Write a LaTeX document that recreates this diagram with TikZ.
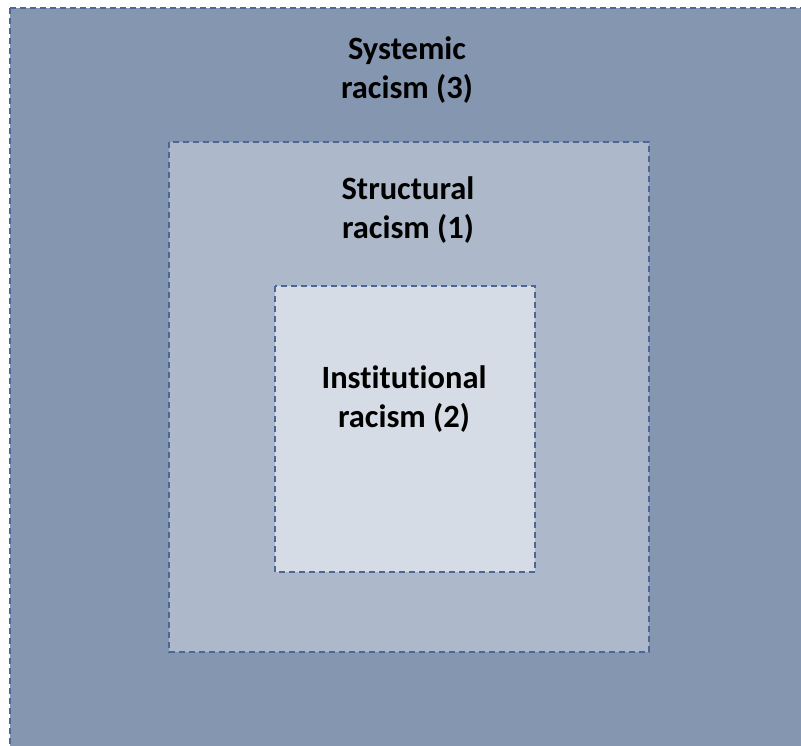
\documentclass[tikz,border=0pt]{standalone}
\usepackage{fontspec}
\setmainfont[Ligatures=NoCommon]{Carlito}
\definecolor{outerfill}{HTML}{8496B0}
\definecolor{midfill}{HTML}{ADB9CA}
\definecolor{innerfill}{HTML}{D6DCE5}
\definecolor{edgeblue}{HTML}{4C6696}
\tikzset{
  layerbox/.style={draw=edgeblue, line width=1.3pt, dash pattern=on 6pt off 4pt},
  layerlabel/.style={font=\fontsize{32.5}{39}\selectfont\bfseries, align=center, inner sep=0pt, text=black}
}
\begin{document}
\begin{tikzpicture}[x=1pt,y=-1pt]
\useasboundingbox (0,0) rectangle (801,746);
\clip (0,0) rectangle (801,746);
\fill[white] (0,0) rectangle (801,746);
\draw[layerbox, fill=outerfill] (10,8) rectangle (830,776);
\draw[layerbox, fill=midfill] (169,142) rectangle (649,652);
\draw[layerbox, fill=innerfill] (275,286) rectangle (535,572);
\node[layerlabel] (systemic) at (407,70) {Systemic\\racism (3)};
\node[layerlabel] (structural) at (408,210) {Structural\\racism (1)};
\node[layerlabel] (institutional) at (404,399) {Institutional\\racism (2)};
\end{tikzpicture}
\end{document}
